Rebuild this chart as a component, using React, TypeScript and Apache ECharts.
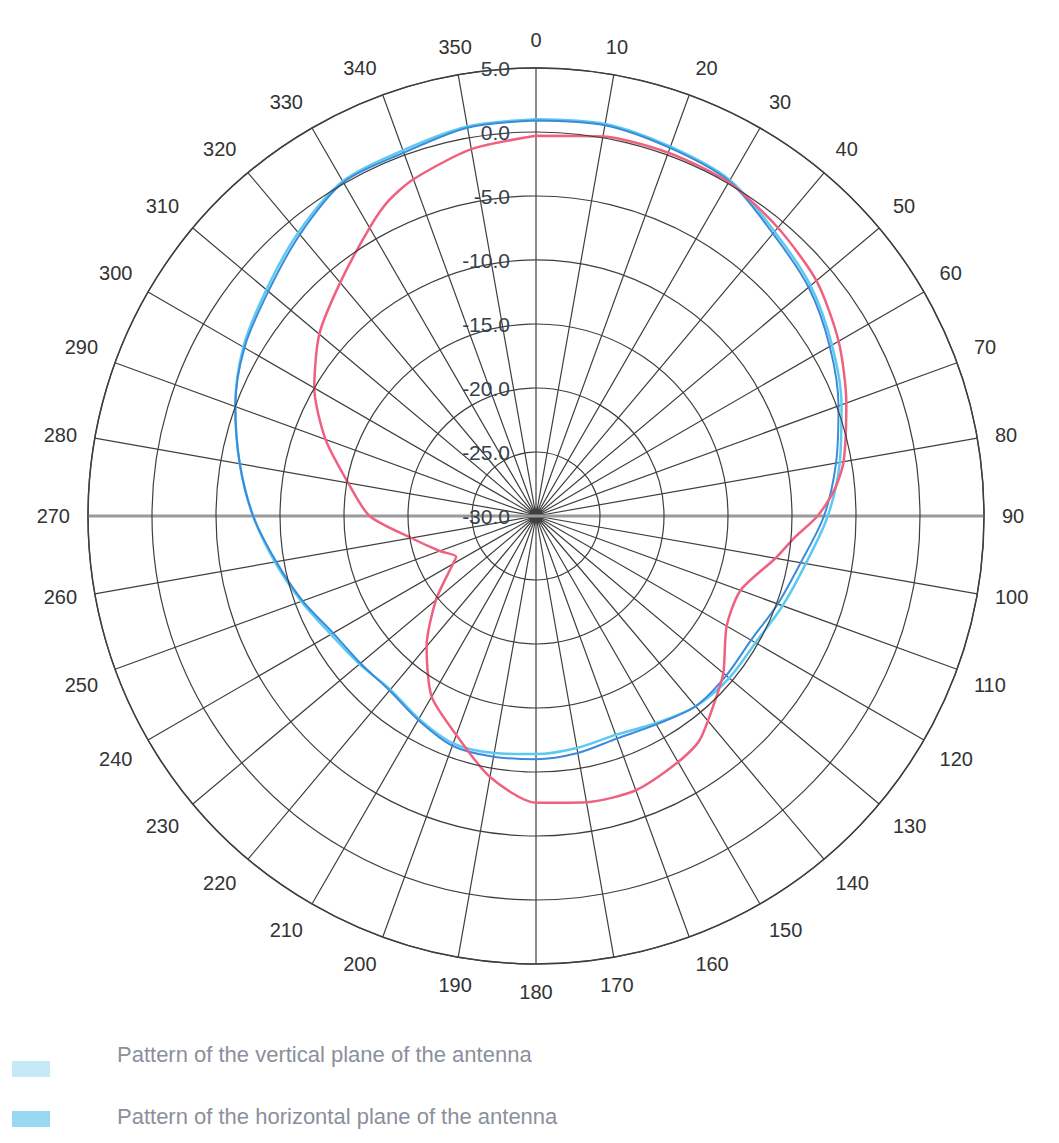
import React, { useEffect, useRef } from "react";
import * as echarts from "echarts";

// Angles (degrees, clockwise from top)
const ANGLES = [0, 10, 20, 30, 40, 50, 60, 70, 80, 90, 100, 110, 120, 130, 140, 150, 160, 170, 180,
  190, 200, 210, 220, 230, 240, 250, 260, 270, 280, 290, 300, 310, 320, 330, 340, 350, 360];

// Horizontal plane (blue), dB
const BLUE_DB = [0.9, 1.0, 0.6, 0.2, -1.2, -2.2, -3.5, -4.85, -6.2, -7.5, -9.0, -9.9, -10.6, -10.6, -10.6, -11.2,
  -11.5, -11.2, -11.0, -10.9, -10.9, -11.6, -12.2, -12.1, -11.7, -10.6, -9.4, -7.9, -6.5, -5.0, -3.7, -2.7,
  -1.3, 0.1, 0.2, 0.8, 0.9];

// Vertical plane (light blue), dB
const CYAN_DB = [1.0, 1.1, 0.7, 0.3, -1.0, -2.0, -3.3, -4.6, -5.9, -7.2, -8.6, -9.5, -10.2, -10.3, -10.6, -11.3,
  -11.8, -11.6, -11.4, -11.2, -11.1, -11.7, -12.3, -12.0, -11.5, -10.5, -9.3, -7.9, -6.5, -5.0, -3.6, -2.5,
  -1.1, 0.2, 0.4, 0.9, 1.0];

// Red pattern
const RED_ANGLES = [0, 10, 20, 30, 40, 50, 60, 70, 80, 85, 90, 95, 100, 110, 120, 130, 137, 144, 150, 160, 170, 180,
  190, 200, 210, 220, 230, 240, 243, 250, 260, 270, 280, 290, 300, 310, 320, 330, 335, 340, 350, 360];
const RED_DB = [-0.3, 0.1, 0.2, 0.1, -0.6, -1.4, -2.7, -4.2, -5.6, -6.6, -8.0, -9.8, -11.0, -13.0, -12.8, -10.9, -9.7,
  -8.3, -7.8, -7.2, -7.3, -7.6, -9.3, -11.8, -13.7, -16.7, -19.8, -22.5, -23.0, -22.0, -20.1, -17.0, -15.1, -12.5,
  -10.0, -7.9, -6.2, -4.0, -2.8, -2.0, -0.9, -0.3];

// Axis ticks
const R_MIN = -30;
const R_MAX = 5;
const R_STEP = 5;
const A_STEP = 10;

const LEGEND_LABELS = [
  "Pattern of the vertical plane of the antenna",
  "Pattern of the horizontal plane of the antenna",
];
const LEGEND_COLORS = ["#c6e9f7", "#98d8f3"];

const FONT = "'Liberation Sans', Arial, Helvetica, sans-serif";

export default function App() {
  const ref = useRef<HTMLDivElement>(null);
  useEffect(() => {
    if (!ref.current) return;
    const chart = echarts.init(ref.current, undefined, { renderer: "svg" });
    const toPairs = (angles: number[], vals: number[]) => angles.map((a, i) => [vals[i], a]);
    chart.setOption({
      animation: false,
      backgroundColor: "#ffffff",
      polar: { center: [528, 508], radius: 448 },
      angleAxis: {
        type: "value",
        min: 0,
        max: 360,
        interval: A_STEP,
        startAngle: 90,
        clockwise: true,
        axisLine: { show: true, lineStyle: { color: "#444", width: 1.5 } },
        axisTick: { show: false },
        splitLine: { show: true, lineStyle: { color: "#3f3f3f", width: 1.2 } },
        axisLabel: {
          margin: 18,
          color: "#333",
          fontSize: 20,
          fontFamily: FONT,
          formatter: (v: number) => (v >= 360 ? "" : String(v)),
        },
      },
      radiusAxis: {
        type: "value",
        min: R_MIN,
        max: R_MAX,
        interval: R_STEP,
        axisLine: { show: false },
        axisTick: { show: false },
        splitLine: { show: true, lineStyle: { color: "#3f3f3f", width: 1.2 } },
        axisLabel: {
          color: "#36404f",
          fontSize: 21,
          fontFamily: FONT,
          align: "right",
          verticalAlign: "middle",
          padding: [0, 18, 0, 0],
          formatter: (v: number) => v.toFixed(1),
        },
        z: 10,
      },
      series: [
        {
          type: "line",
          coordinateSystem: "polar",
          silent: true,
          showSymbol: false,
          data: [[R_MAX, 270], [R_MIN, 0], [R_MAX, 90]],
          lineStyle: { color: "#9a9a9a", width: 3 },
          z: 1,
        },
        {
          name: "vertical",
          type: "line",
          coordinateSystem: "polar",
          showSymbol: false,
          smooth: 0.3,
          data: toPairs(ANGLES, CYAN_DB),
          lineStyle: { color: "#5ccaf0", width: 2.5 },
          z: 3,
        },
        {
          name: "horizontal",
          type: "line",
          coordinateSystem: "polar",
          showSymbol: false,
          smooth: 0.3,
          data: toPairs(ANGLES, BLUE_DB),
          lineStyle: { color: "#3d8ad8", width: 2 },
          z: 4,
        },
        {
          name: "red",
          type: "line",
          coordinateSystem: "polar",
          showSymbol: false,
          smooth: 0.25,
          data: toPairs(RED_ANGLES, RED_DB),
          lineStyle: { color: "#f0607f", width: 2.5 },
          z: 5,
        },
      ],
      graphic: LEGEND_LABELS.flatMap((label, i) => [
        {
          type: "rect",
          left: 4,
          top: 1053 + i * 50,
          shape: { width: 38, height: 16 },
          style: { fill: LEGEND_COLORS[i] },
        },
        {
          type: "text",
          left: 109,
          top: 1035 + i * 62,
          style: { text: label, fill: "#8a909b", fontSize: 22, fontFamily: FONT },
        },
      ]),
    });
    return () => chart.dispose();
  }, []);
  return <div ref={ref} style={{ width: 1043, height: 1127 }} />;
}
